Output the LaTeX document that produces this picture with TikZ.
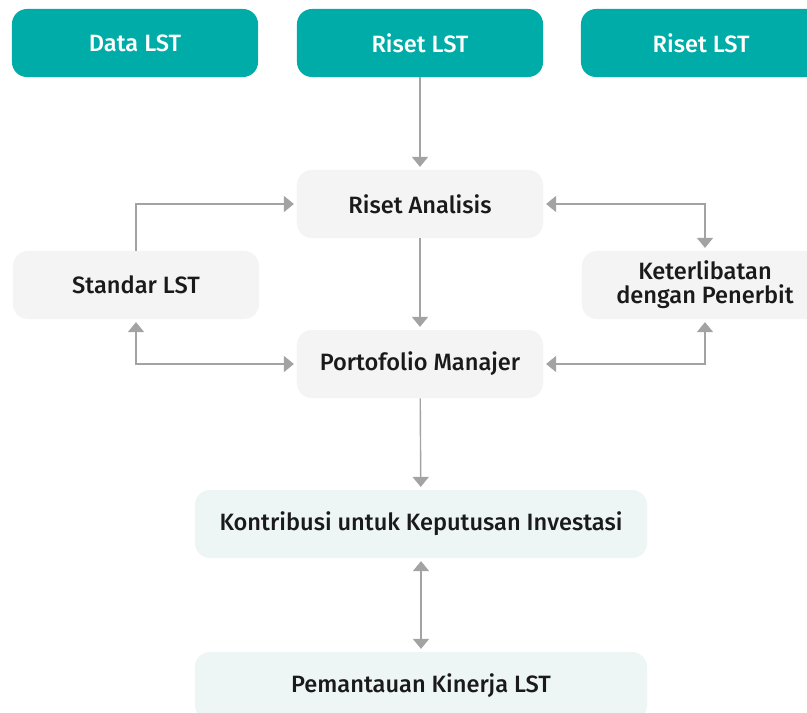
\documentclass[tikz,border=0pt]{standalone}
\usepackage{fontspec}
\setmainfont{Fira Sans}[BoldFont=* Medium]
\usetikzlibrary{arrows.meta}
\definecolor{lstteal}{HTML}{00ACA7}
\definecolor{lstgrey}{HTML}{F4F4F4}
\definecolor{lstmint}{HTML}{EEF6F5}
\definecolor{lstline}{HTML}{A3A3A3}
\definecolor{lsttext}{HTML}{1A1A1A}
\tikzset{
  box/.style={rounded corners=0.375cm, minimum width=6.15cm, minimum height=1.7cm,
    align=center, font=\fontsize{16.8}{17}\selectfont\bfseries, text=lsttext},
  topbox/.style={box, fill=lstteal, text=white},
  greybox/.style={box, fill=lstgrey},
  mintbox/.style={box, fill=lstmint, minimum width=11.3cm},
  link/.style={draw=lstline, line width=1pt, shorten >=2pt,
    -{Triangle[width=0.4cm,length=0.25cm]}},
  twolink/.style={link, shorten <=2pt,
    {Triangle[width=0.4cm,length=0.25cm]}-{Triangle[width=0.4cm,length=0.25cm]}}
}
\begin{document}
\begin{tikzpicture}[x=0.025cm, y=-0.025cm]
  \clip (0,0) rectangle (807,712);
  \fill[white] (0,0) rectangle (807,712);
  \node[topbox] (data) at (135,43) {Data LST};
  \node[topbox] (riset) at (420,43) {Riset LST};
  \node[topbox] (riset2) at (704,43) {\hspace*{-4pt}Riset LST};
  \node[greybox] (analisis) at (420,204) {Riset Analisis};
  \node[greybox] (standar) at (136,285) {Standar LST};
  \node[greybox] (penerbit) at (705,285) {Keterlibatan\\dengan Penerbit};
  \node[greybox] (manajer) at (420,364) {Portofolio Manajer};
  \node[mintbox] (kontribusi) at (421,524) {Kontribusi untuk Keputusan Investasi};
  \node[mintbox] (pemantauan) at (421,686) {Pemantauan Kinerja LST};
  \draw[link] (riset) -- (analisis);
  \draw[link] (standar.north) |- (analisis.west);
  \draw[twolink] (analisis.east) -| (penerbit.north);
  \draw[link] (analisis) -- (manajer);
  \draw[twolink] (standar.south) |- (manajer.west);
  \draw[twolink] (manajer.east) -| (penerbit.south);
  \draw[link] (manajer) -- (kontribusi);
  \draw[twolink] (kontribusi) -- (pemantauan);
\end{tikzpicture}
\end{document}
